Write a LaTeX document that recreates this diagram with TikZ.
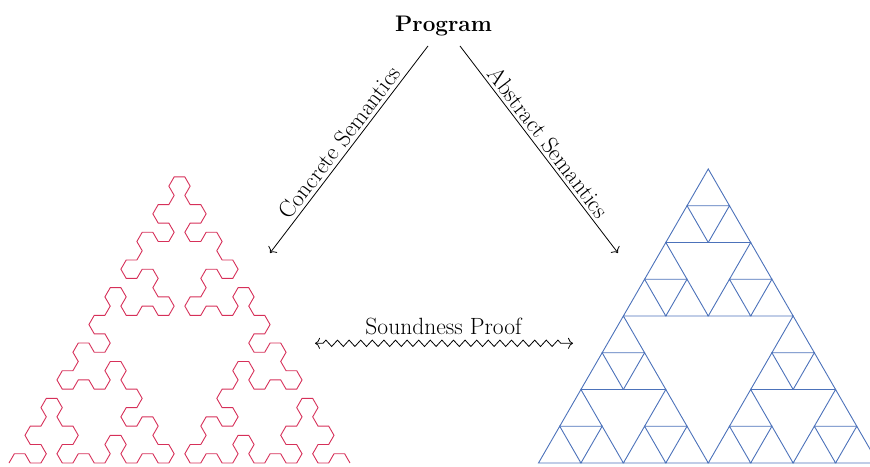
\documentclass[tikz,border=0pt]{standalone}
\usetikzlibrary{lindenmayersystems,decorations.pathmorphing,arrows.meta}
\definecolor{fracred}{RGB}{214,48,89}
\definecolor{fracblue}{RGB}{76,114,186}
\pgfdeclarelindenmayersystem{arrowhead}{
  \symbol{A}{\pgflsystemdrawforward}
  \symbol{B}{\pgflsystemdrawforward}
  \rule{A -> B-A-B}
  \rule{B -> A+B+A}
}
\begin{document}
\begin{tikzpicture}[x=1pt,y=1pt,
  lbl/.style={font=\fontsize{23.5}{27}\selectfont, inner sep=3pt},
  tip/.style={{To[length=5pt,width=11pt]}},
  conn/.style={-{To[length=5pt,width=11pt]}, line width=0.8pt, black},
  redcurve/.style={fracred, line width=0.9pt, line join=miter},
  bluetri/.style={fracblue, line width=0.9pt}]
\useasboundingbox (0,0) rectangle (870,466);
\clip (0,0) rectangle (870,466);

% top node
\node[anchor=base, font=\fontsize{22.5}{26}\selectfont\bfseries, inner sep=0pt] (prog) at (443.5,434.3) {Program};

% connector end points
\coordinate (cs) at (428,420);
\coordinate (ce) at (270,213);
\coordinate (as) at (460,420);
\coordinate (ae) at (618,213);
\coordinate (sl) at (315,122.7);
\coordinate (sr) at (573,122.7);

\draw[conn] (cs) -- node[lbl, midway, sloped, above] (cl) {Concrete Semantics} (ce);
\draw[conn] (as) -- node[lbl, midway, sloped, above] (al) {Abstract Semantics} (ae);

\node[lbl, anchor=base, inner sep=0pt] (sp) at (443.5,131) {Soundness Proof};
\draw[{To[length=5pt,width=11pt]}-{To[length=5pt,width=11pt]}, line width=0.8pt, decorate,
  decoration={zigzag, amplitude=3.2pt, segment length=11.6pt, pre length=8pt, post length=8pt}]
  (sl) -- (sr);

% Sierpinski arrowhead curve (order 5)
\begin{scope}[shift={(9,3)}, rotate=60]
\draw[redcurve, l-system={arrowhead, axiom=A, order=5, angle=60, step=10.656pt}] (0,0) lindenmayer system;
\end{scope}

% Sierpinski triangle (depth 3)
\begin{scope}[shift={(538.5,3)}]
\foreach \ax/\ay in {0/0,1/0,0.5/0.8660254}
 \foreach \bx/\by in {0/0,1/0,0.5/0.8660254}
  \foreach \cx/\cy in {0/0,1/0,0.5/0.8660254}
   \draw[bluetri] ({169.75*\ax+84.875*\bx+42.4375*\cx},{169.75*\ay+84.875*\by+42.4375*\cy})
     -- ++(42.4375,0) -- ++(120:42.4375) -- cycle;
\end{scope}
\end{tikzpicture}
\end{document}
